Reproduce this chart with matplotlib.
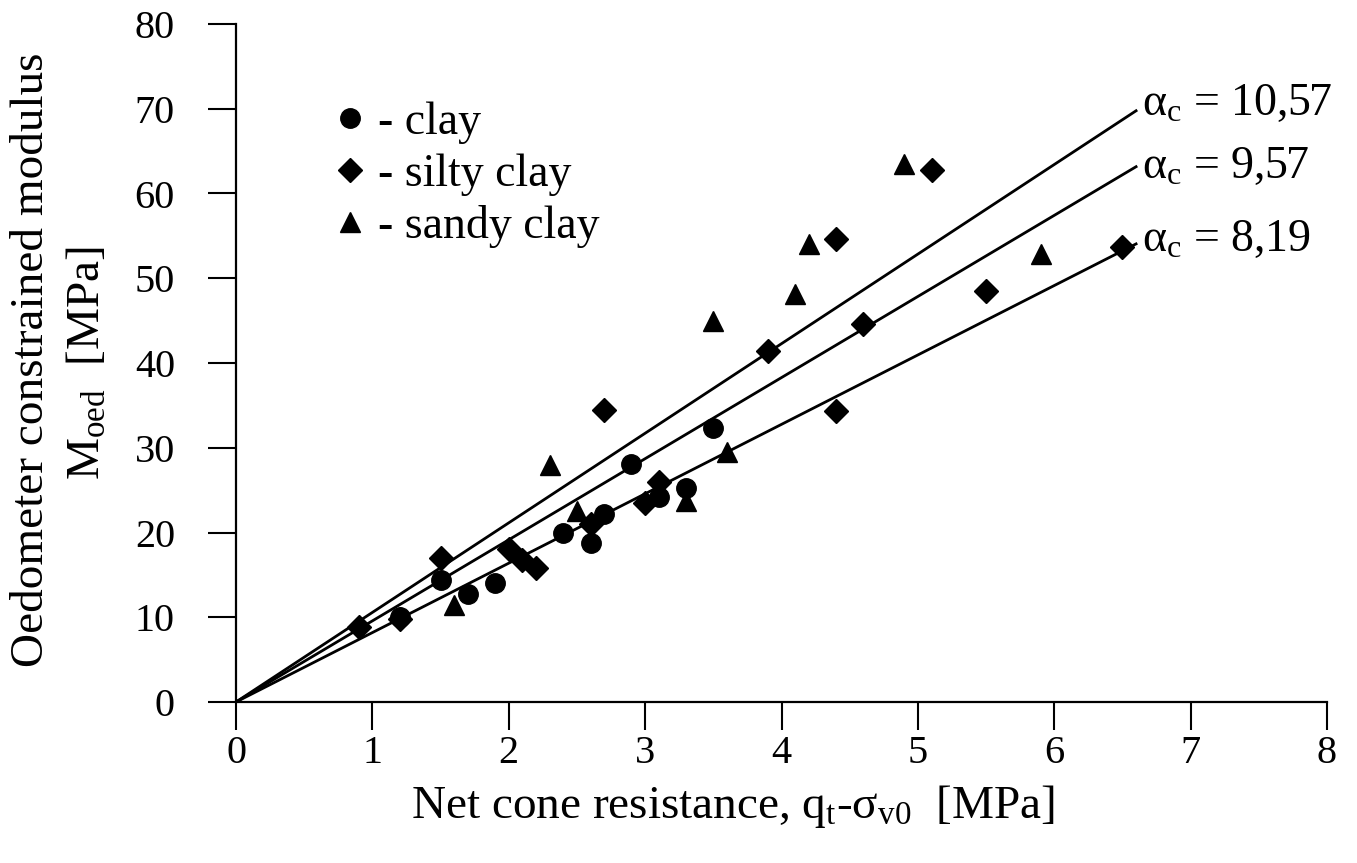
import numpy as np
import matplotlib.pyplot as plt

plt.rcParams['font.family'] = ['Liberation Serif', 'DejaVu Serif']
plt.rcParams['mathtext.fontset'] = 'custom'
plt.rcParams['mathtext.rm'] = 'Liberation Serif'
plt.rcParams['mathtext.it'] = 'Liberation Serif:italic'

# net cone resistance qt - sigma_v0 [MPa] vs. oedometer modulus M_oed [MPa]
clay_q = [1.2, 1.5, 1.7, 1.9, 2.4, 2.6, 2.7, 2.9, 3.1, 3.3, 3.5]
clay_m = [10.0, 14.4, 12.7, 14.1, 20.0, 18.8, 22.2, 28.1, 24.2, 25.2, 32.3]

silty_q = [0.9, 1.2, 1.5, 2.0, 2.1, 2.2, 2.6, 2.7, 3.0, 3.1, 3.9, 4.4, 4.4,
           4.6, 5.1, 5.5, 6.5]
silty_m = [8.9, 9.8, 17.0, 18.0, 16.8, 15.8, 21.0, 34.5, 23.5, 26.0, 41.4,
           34.3, 54.6, 44.6, 62.8, 48.5, 53.7]

sandy_q = [1.6, 2.3, 2.5, 3.3, 3.5, 3.6, 4.1, 4.2, 4.9, 5.9]
sandy_m = [11.5, 28.0, 22.5, 23.7, 45.0, 29.5, 48.1, 54.0, 63.5, 52.9]

# M_oed = alpha_c * (qt - sigma_v0)
alphas = [10.57, 9.57, 8.19]
q_end = 6.6
label_dy = [-3, -8, -5]

fig = plt.figure(figsize=(13.57, 8.63), dpi=100)
ax = fig.add_axes([236 / 1357, 1 - 702 / 863, 1091 / 1357, 678 / 863])

for a, dy in zip(alphas, label_dy):
    xs = np.array([0.0, q_end])
    ax.plot(xs, a * xs, color='black', lw=2.0, zorder=2)
    txt = 'α$_\\mathrm{c}$ = ' + str(a).replace('.', ',')
    ax.annotate(txt, xy=(q_end, a * q_end), xytext=(4, dy),
                textcoords='offset points', ha='left', va='baseline',
                fontsize=33, annotation_clip=False)

ax.plot(clay_q, clay_m, 'o', color='black', ms=14, ls='none',
        label='- clay', zorder=3)
ax.plot(silty_q, silty_m, 'D', color='black', ms=12, ls='none',
        label='- silty clay', zorder=3)
ax.plot(sandy_q, sandy_m, '^', color='black', ms=15, ls='none',
        label='- sandy clay', zorder=3)

ax.legend(loc='upper left', bbox_to_anchor=(0.092, 0.885), frameon=False,
          fontsize=33, numpoints=1, handlelength=0.6, handletextpad=0.3,
          labelspacing=0.2, borderpad=0, borderaxespad=0)

ax.set_xlim(0, 8)
ax.set_ylim(0, 80)
ax.set_xticks(range(0, 9))
ax.set_yticks(range(0, 81, 10))
for side in ['top', 'right']:
    ax.spines[side].set_visible(False)
for side in ['left', 'bottom']:
    ax.spines[side].set_linewidth(1.6)
ax.tick_params(direction='out', length=20, width=1.5, labelsize=29)
ax.tick_params(axis='y', pad=24)
ax.tick_params(axis='x', pad=4)

ax.set_xlabel('Net cone resistance, q$_\\mathrm{t}$-σ$_\\mathrm{v0}$  [MPa]',
              fontsize=34)
ax.xaxis.set_label_coords(497 / 1091, -0.12)

fig.text(32 / 1357, 1 - 360 / 863, 'Oedometer constrained modulus',
         rotation=90, ha='center', va='center', fontsize=34)
fig.text(88 / 1357, 1 - 363 / 863, 'M$_\\mathrm{oed}$  [MPa]',
         rotation=90, ha='center', va='center', fontsize=34)

fig.savefig('out.png', dpi=100)
